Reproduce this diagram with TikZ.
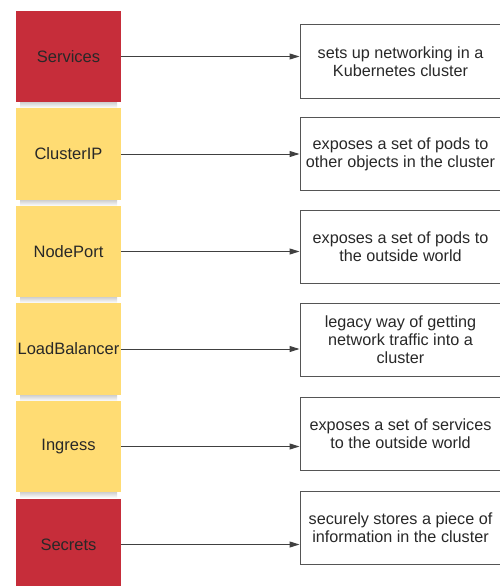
\documentclass[tikz,border=0pt]{standalone}
\usepackage{fontspec}
\setmainfont{Liberation Sans}
\usetikzlibrary{arrows.meta}
\definecolor{svcred}{RGB}{198,45,58}
\definecolor{tyellow}{RGB}{255,220,115}
\definecolor{edgegray}{RGB}{85,85,85}
\definecolor{txt}{RGB}{40,40,40}
\tikzset{
  kind/.style={minimum width=105pt, minimum height=91pt, inner sep=0pt,
    font=\fontsize{16.5}{18}\selectfont, text=txt},
  redbox/.style={kind, fill=svcred},
  yelbox/.style={kind, fill=tyellow},
  desc/.style={draw=edgegray, line width=1pt, fill=white, minimum width=201pt,
    minimum height=73pt, align=center, inner sep=0pt,
    font=\fontsize{16.2}{18}\selectfont, text=txt},
  link/.style={draw=black!75, line width=1pt, -{Triangle[length=10pt,width=6pt]}},
  boxshadow/.style={top color=black!22, bottom color=white, draw=none}
}
\begin{document}
\begin{tikzpicture}[x=1pt,y=-1pt]
\useasboundingbox (0,0) rectangle (500,586);
% shadows beneath boxes
\foreach \b in {102,200,297,395,492}{
  \shade[boxshadow] (20,\b-1) rectangle (117,\b+6);
}
% kind boxes
\node[redbox] (l1) at (68.5,56.5) {Services};
\node[yelbox, minimum height=92pt] (l2) at (68.5,154) {ClusterIP};
\node[yelbox] (l3) at (68.5,251.5) {NodePort};
\node[yelbox, minimum height=92pt] (l4) at (68.5,349) {LoadBalancer};
\node[yelbox] (l5) at (68.5,446.5) {Ingress};
\node[redbox] (l6) at (68.5,544.5) {Secrets};
% description boxes
\node[desc] (d1) at (400.5,61.5) {sets up networking in a\\Kubernetes cluster};
\node[desc] (d2) at (400.5,154) {exposes a set of pods to\\other objects in the cluster};
\node[desc] (d3) at (400.5,247) {exposes a set of pods to\\the outside world};
\node[desc] (d4) at (400.5,340) {legacy way of getting\\network traffic into a\\cluster};
\node[desc] (d5) at (400.5,433.5) {exposes a set of services\\to the outside world};
\node[desc] (d6) at (400.5,528) {securely stores a piece of\\information in the cluster};
% connectors
\foreach \i in {1,...,6}{
  \draw[link] (l\i.east) -- (l\i.east -| d\i.west);
}
\end{tikzpicture}
\end{document}
